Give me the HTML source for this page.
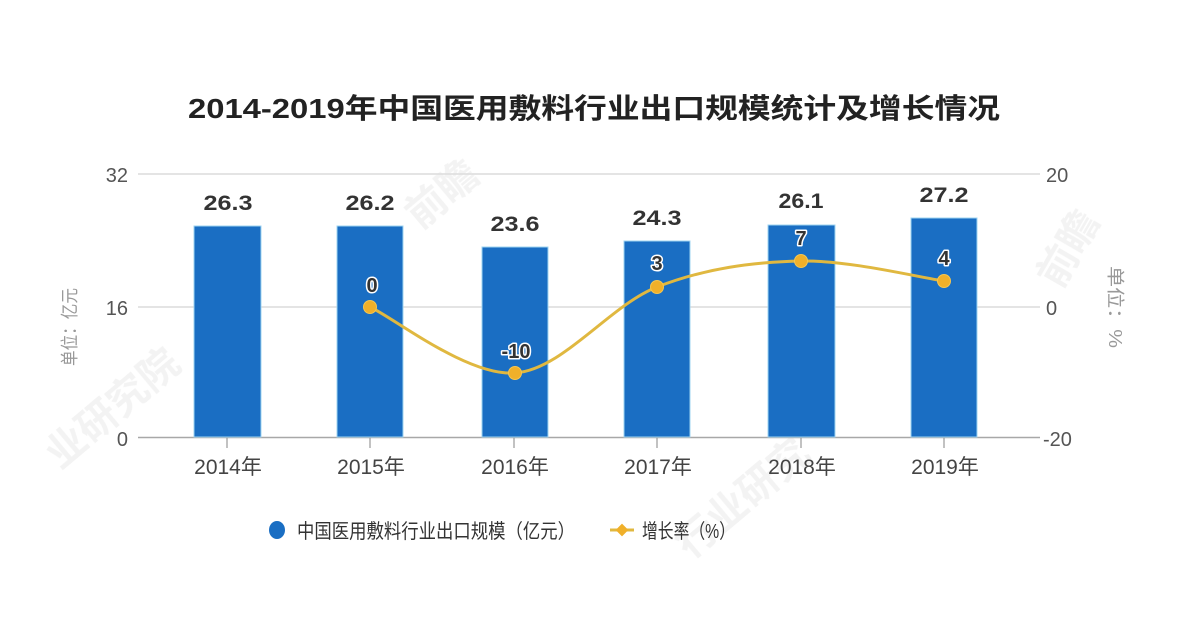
<!DOCTYPE html>
<html>
<head>
<meta charset="utf-8">
<style>
  html, body { margin: 0; padding: 0; background: #ffffff; }
  body { width: 1200px; height: 622px; overflow: hidden; }
  svg { display: block; }
  text { font-family: "Liberation Sans", "Noto Sans CJK SC", sans-serif; }
</style>
</head>
<body>
<svg width="1200" height="622" viewBox="0 0 1200 622" xmlns="http://www.w3.org/2000/svg">
  <rect x="0" y="0" width="1200" height="622" fill="#ffffff"/>

  <!-- faint watermarks -->
  <g fill="#f0f0f0" font-weight="bold" opacity="0.8">
    <text x="0" y="0" font-size="40" transform="translate(60,470) rotate(-40)">业研究院</text>
    <text x="0" y="0" font-size="40" transform="translate(420,230) rotate(-40)">前瞻</text>
    <text x="0" y="0" font-size="40" transform="translate(690,560) rotate(-40)">行业研究</text>
    <text x="0" y="0" font-size="40" transform="translate(1060,290) rotate(-60)">前瞻</text>
  </g>

  <!-- Title -->
  <text x="188" y="118" font-size="28" font-weight="bold" fill="#222" textLength="812" lengthAdjust="spacingAndGlyphs">2014-2019年中国医用敷料行业出口规模统计及增长情况</text>

  <!-- Gridlines -->
  <g stroke="#dcdcdc" stroke-width="1.5">
    <line x1="138" y1="174" x2="1040" y2="174"/>
    <line x1="138" y1="307" x2="1040" y2="307"/>
  </g>
  <!-- Axis line -->
  <line x1="138" y1="437.5" x2="1040" y2="437.5" stroke="#a8a8a8" stroke-width="1.5"/>
  <!-- Ticks -->
  <g stroke="#999" stroke-width="1.2">
    <line x1="227" y1="437" x2="227" y2="448"/>
    <line x1="370" y1="437" x2="370" y2="448"/>
    <line x1="514" y1="437" x2="514" y2="448"/>
    <line x1="657" y1="437" x2="657" y2="448"/>
    <line x1="801" y1="437" x2="801" y2="448"/>
    <line x1="944" y1="437" x2="944" y2="448"/>
  </g>

  <!-- Left axis labels -->
  <g font-size="20" fill="#555" text-anchor="end">
    <text x="128" y="182">32</text>
    <text x="128" y="315">16</text>
    <text x="128" y="446">0</text>
  </g>
  <!-- Right axis labels -->
  <g font-size="20" fill="#555" text-anchor="start">
    <text x="1046" y="182">20</text>
    <text x="1046" y="315">0</text>
    <text x="1043" y="446">-20</text>
  </g>

  <!-- Axis titles -->
  <text x="0" y="0" font-size="18" fill="#999" text-anchor="middle" transform="translate(76,327) rotate(-90)" textLength="78" lengthAdjust="spacingAndGlyphs">单位：亿元</text>
  <text x="0" y="0" font-size="18" fill="#999" text-anchor="middle" transform="translate(1109,307) rotate(90)" textLength="82" lengthAdjust="spacingAndGlyphs">单位：%</text>

  <!-- Bars -->
  <g fill="#1a6ec3" stroke="#9fd4f2" stroke-width="1">
    <rect x="194" y="226" width="67" height="211"/>
    <rect x="337" y="226" width="66" height="211"/>
    <rect x="482" y="247" width="66" height="190"/>
    <rect x="624" y="241" width="66" height="196"/>
    <rect x="768" y="225" width="67" height="212"/>
    <rect x="911" y="218" width="66" height="219"/>
  </g>

  <!-- Bar value labels -->
  <g font-size="21" font-weight="bold" fill="#333" text-anchor="middle">
    <text x="228" y="210" textLength="49" lengthAdjust="spacingAndGlyphs">26.3</text>
    <text x="370" y="210" textLength="49" lengthAdjust="spacingAndGlyphs">26.2</text>
    <text x="515" y="231" textLength="49" lengthAdjust="spacingAndGlyphs">23.6</text>
    <text x="657" y="225" textLength="49" lengthAdjust="spacingAndGlyphs">24.3</text>
    <text x="801" y="208" textLength="45" lengthAdjust="spacingAndGlyphs">26.1</text>
    <text x="944" y="202" textLength="49" lengthAdjust="spacingAndGlyphs">27.2</text>
  </g>

  <!-- Growth line -->
  <path d="M370,307 C394.2,318 467.2,376.3 515,373 C562.8,369.7 609.3,305.7 657,287 C704.7,268.3 753.2,262 801,261 C848.8,260 920.2,277.7 944,281"
        fill="none" stroke="#e0b840" stroke-width="3"/>
  <g fill="#f0b02a" stroke="#f5c650" stroke-width="1">
    <circle cx="370" cy="307" r="6.5"/>
    <circle cx="515" cy="373" r="6.5"/>
    <circle cx="657" cy="287" r="6.5"/>
    <circle cx="801" cy="261" r="6.5"/>
    <circle cx="944" cy="281" r="6.5"/>
  </g>

  <!-- Line value labels -->
  <g font-size="20" font-weight="bold" fill="#333" stroke="#ffffff" stroke-width="3" paint-order="stroke" text-anchor="middle" stroke-linejoin="round">
    <text x="372" y="292">0</text>
    <text x="516" y="358">-10</text>
    <text x="657" y="270">3</text>
    <text x="801" y="245">7</text>
    <text x="944" y="265">4</text>
  </g>

  <!-- X axis labels -->
  <g font-size="21" fill="#444" text-anchor="middle">
    <text x="228" y="474">2014年</text>
    <text x="371" y="474">2015年</text>
    <text x="515" y="474">2016年</text>
    <text x="658" y="474">2017年</text>
    <text x="802" y="474">2018年</text>
    <text x="945" y="474">2019年</text>
  </g>

  <!-- Legend -->
  <ellipse cx="277" cy="530" rx="8" ry="9" fill="#1a6ec3"/>
  <text x="297" y="538" font-size="20" fill="#333" textLength="278" lengthAdjust="spacingAndGlyphs">中国医用敷料行业出口规模（亿元）</text>
  <line x1="610" y1="530" x2="634" y2="530" stroke="#e0b840" stroke-width="3"/>
  <rect x="617.5" y="525.5" width="9" height="9" fill="#f0b02a" transform="rotate(45 622 530)"/>
  <text x="642" y="538" font-size="20" fill="#333" textLength="93" lengthAdjust="spacingAndGlyphs">增长率（%）</text>
</svg>
</body>
</html>
